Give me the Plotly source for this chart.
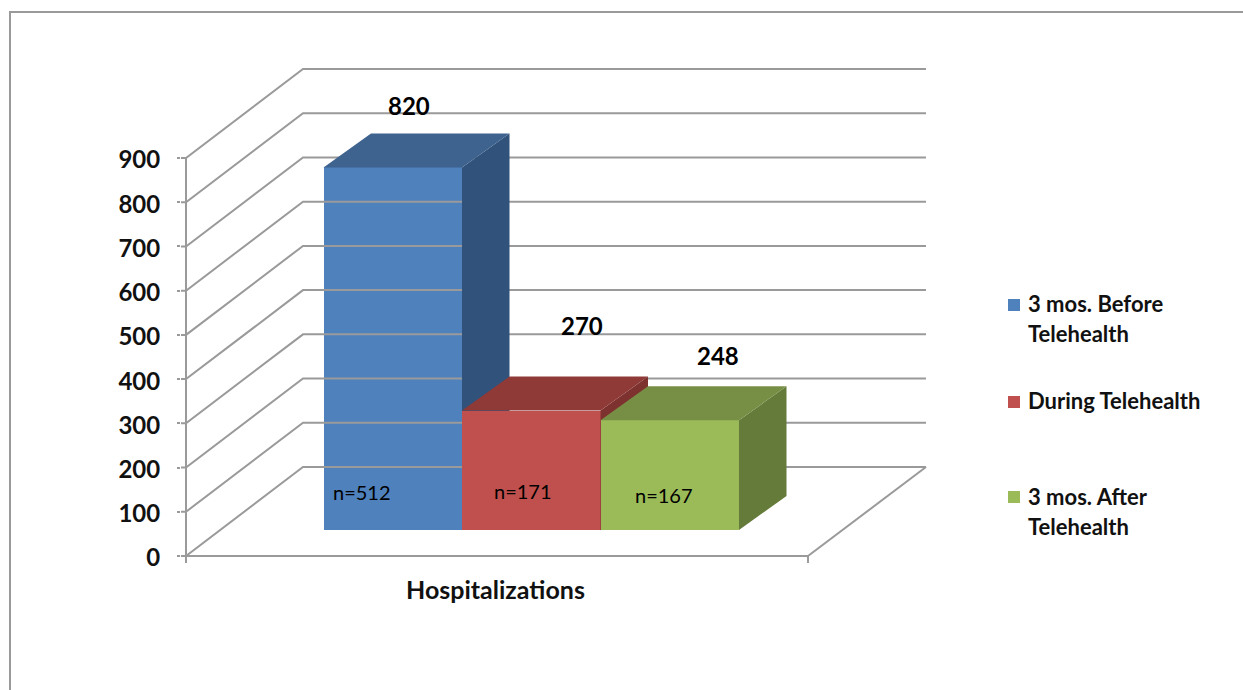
import plotly.graph_objects as go

# ---- data ----
CATEGORY = "Hospitalizations"
SERIES = ["3 mos. Before<br>Telehealth", "During Telehealth", "3 mos. After<br>Telehealth"]
VALUES = [820, 270, 248]
N_LABELS = ["n=512", "n=171", "n=167"]
TICKS = [0, 100, 200, 300, 400, 500, 600, 700, 800, 900]

# ---- styles ----
FRONT = ["#4F81BD", "#C0504D", "#9BBB59"]
TOP = ["#3E638F", "#8F3A37", "#778F45"]
SIDE = ["#31527A", "#7E3230", "#657B3A"]
GRID = "#9A9A9A"
FONT = "Lato"
W, H = 1243, 690

# ---- layout of the oblique projection (screen pixels) ----
X0, Y0 = 186, 556                # where x=0 and value=0 fall on screen
PAD = 9                          # plot box is padded so no line is clipped at its edge
PL, PR, PT, PB = X0 - 5, 926 + 5, 69 - PAD, Y0 + PAD
PX_PER_UNIT = 0.4422
Y_RANGE = [-PAD / PX_PER_UNIT, (Y0 - PT) / PX_PER_UNIT]
X_RANGE = [PL - X0, PR - X0]
FLOOR_W = 622
WALL_DX, WALL_DY = 117, 89 / PX_PER_UNIT
BAR_X0, BAR_W = 137.5, 138.5
BAR_DX, BAR_DY = 47.5, 34 / PX_PER_UNIT
BASE = 26 / PX_PER_UNIT
VALUE_SHIFT = [(16, 62), (51, 85), (48, 65)]
N_POS = [(-31, 38), (-8, 39), (-6, 35)]
LEG_Y = [318, 401, 511]
LEG_SW_Y = [305, 402, 497]


def px(x):
    return (x - PL) / (PR - PL)


def py(y):
    return (PB - y) / (PB - PT)


fig = go.Figure()

# walls and floor
wx, wy = [], []
for t in TICKS:
    wx += [-5, 0, WALL_DX, WALL_DX + FLOOR_W + 1, None]
    wy += [t, t, t + WALL_DY, t + WALL_DY, None]
low = -7 / PX_PER_UNIT
wx += [0, 0, None, 0, FLOOR_W, None, FLOOR_W, FLOOR_W, None, FLOOR_W, WALL_DX + FLOOR_W + 1]
wy += [low, TICKS[-1], None, 0, 0, None, low, 0, None, 0, WALL_DY]
fig.add_trace(go.Scatter(x=wx, y=wy, mode="lines", showlegend=False, hoverinfo="skip",
                         line=dict(color=GRID, width=2)))

# one bar per series; each sits on its own overlaid axes so that later boxes cover earlier sides
for i, (name, v) in enumerate(zip(SERIES, VALUES)):
    xa, ya = ("x", "y") if i == 0 else (f"x{i + 1}", f"y{i + 1}")
    x0 = BAR_X0 + i * BAR_W
    x1 = x0 + BAR_W
    top = BASE + v
    fig.add_trace(go.Bar(x=[x0 + BAR_W / 2], y=[v], base=[BASE], width=[BAR_W], name=name,
                         marker=dict(color=FRONT[i], line=dict(width=0)), xaxis=xa, yaxis=ya,
                         showlegend=False, cliponaxis=False))
    fig.add_trace(go.Scatter(x=[x1, x1 + BAR_DX, x1 + BAR_DX, x1, x1],
                             y=[BASE, BASE + BAR_DY, top + BAR_DY, top, BASE],
                             mode="lines", fill="toself", fillcolor=SIDE[i], line=dict(width=0),
                             xaxis=xa, yaxis=ya, showlegend=False, hoverinfo="skip"))
    fig.add_trace(go.Scatter(x=[x0, x1, x1 + BAR_DX, x0 + BAR_DX, x0],
                             y=[top, top, top + BAR_DY, top + BAR_DY, top],
                             mode="lines", fill="toself", fillcolor=TOP[i], line=dict(width=0),
                             xaxis=xa, yaxis=ya, showlegend=False, hoverinfo="skip"))
    # value label (moved by hand in the source chart) and inner n= label
    fig.add_annotation(x=x0 + BAR_W / 2, y=top, text=str(v), showarrow=False,
                       xshift=VALUE_SHIFT[i][0], yshift=VALUE_SHIFT[i][1],
                       font=dict(family=FONT, size=24, color="#000", weight="bold"))
    fig.add_annotation(x=x0 + BAR_W / 2, y=BASE, text=N_LABELS[i], showarrow=False,
                       xshift=N_POS[i][0], yshift=N_POS[i][1],
                       font=dict(family=FONT, size=20, color="#000"))
    # legend
    fig.add_shape(type="rect", xref="paper", yref="paper", x0=px(1008), x1=px(1020),
                  y0=py(LEG_SW_Y[i] - 6), y1=py(LEG_SW_Y[i] + 6),
                  fillcolor=FRONT[i], line=dict(width=0))
    fig.add_annotation(xref="paper", yref="paper", x=px(1026), y=py(LEG_Y[i]), xanchor="left",
                       yanchor="middle", align="left", showarrow=False,
                       text="<br>".join(f'<span style="font-size:22px">{p}</span>' for p in name.split("<br>")),
                       font=dict(family=FONT, size=23, color="#111", weight="bold"))

fig.add_annotation(x=309, y=0, yshift=-33, text=CATEGORY, showarrow=False,
                   font=dict(family=FONT, size=25, color="#111", weight="bold"))

# outer frame
fig.add_shape(type="path", xref="paper", yref="paper",
              path=f"M{px(10)},{py(H)} L{px(10)},{py(12)} L{px(W)},{py(12)}",
              line=dict(color="#9A9A9A", width=2))

hidden_x = dict(range=X_RANGE, visible=False, overlaying="x")
hidden_y = dict(range=Y_RANGE, visible=False, overlaying="y")
fig.update_layout(
    width=W, height=H, autosize=False, showlegend=False,
    margin=dict(l=PL, r=W - PR, t=PT, b=H - PB, pad=0),
    paper_bgcolor="white", plot_bgcolor="rgba(0,0,0,0)",
    bargap=0,
    xaxis=dict(range=X_RANGE, showgrid=False, zeroline=False, showline=False,
               showticklabels=False, ticks=""),
    yaxis=dict(range=Y_RANGE, tickvals=TICKS, ticks="outside", ticklen=3, tickwidth=2,
               tickcolor=GRID, showgrid=False, zeroline=False, showline=False,
               ticklabelstandoff=12, ticklabelshift=2,
               tickfont=dict(family=FONT, size=24, color="#111", weight="bold")),
    xaxis2=hidden_x, yaxis2=hidden_y, xaxis3=hidden_x, yaxis3=hidden_y,
)
fig.write_html("out.html", config=dict(displayModeBar=False),
               post_script="document.body.style.margin='0';document.documentElement.style.overflow='hidden';")
